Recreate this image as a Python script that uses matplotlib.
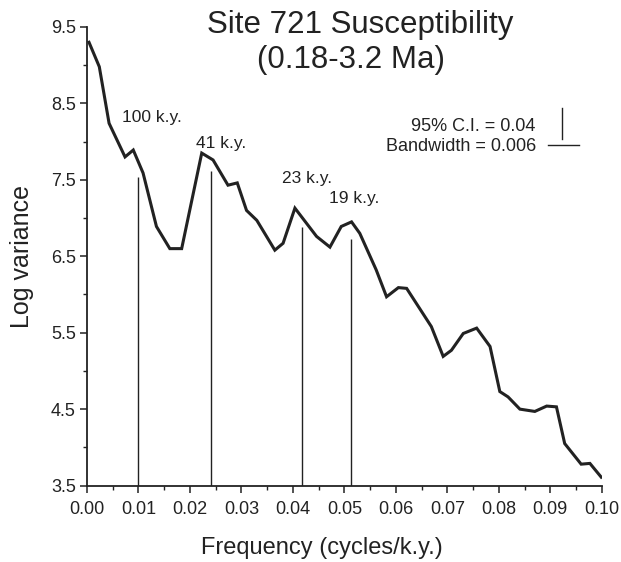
import matplotlib
matplotlib.use("Agg")
import matplotlib.pyplot as plt
from matplotlib.ticker import MultipleLocator

plt.rcParams['font.family'] = ['Liberation Sans', 'DejaVu Sans']

# spectrum vertices (frequency in cycles/k.y., log variance)
freq = [0.0004, 0.0024, 0.0043, 0.0074, 0.0090, 0.0109, 0.0135, 0.0161, 0.0184,
        0.0223, 0.0245, 0.0274, 0.0292, 0.0310, 0.0330, 0.0365, 0.0381, 0.0404,
        0.0446, 0.0472, 0.0494, 0.0514, 0.0530, 0.0562, 0.0582, 0.0605, 0.0621,
        0.0669, 0.0692, 0.0708, 0.0731, 0.0757, 0.0783, 0.0802, 0.0818, 0.0841,
        0.0870, 0.0893, 0.0912, 0.0928, 0.0960, 0.0977, 0.0999]
logvar = [9.30, 8.98, 8.24, 7.80, 7.89, 7.59, 6.89, 6.60, 6.60,
          7.85, 7.76, 7.43, 7.46, 7.10, 6.97, 6.58, 6.67, 7.13,
          6.76, 6.62, 6.89, 6.95, 6.80, 6.32, 5.97, 6.09, 6.08,
          5.58, 5.19, 5.27, 5.49, 5.56, 5.32, 4.73, 4.66, 4.50,
          4.47, 4.54, 4.53, 4.05, 3.78, 3.79, 3.61]

# orbital periods marked on the spectrum
peak_labels = ['100 k.y.', '41 k.y.', '23 k.y.', '19 k.y.']
peak_freq = [0.0100, 0.0241, 0.0418, 0.0512]
peak_top = [7.54, 7.61, 6.88, 6.73]
label_x = [0.0126, 0.0260, 0.0427, 0.0520]
label_y = [8.31, 7.98, 7.52, 7.26]

bandwidth = 0.006
ci_text = '95% C.I. = 0.04'
bw_text = 'Bandwidth = 0.006'

ink = '#222222'

fig = plt.figure(figsize=(6.21, 5.62), dpi=100)
ax = fig.add_axes([0.140, 0.136, 0.829, 0.816])

ax.plot(freq, logvar, color=ink, lw=2.2, solid_joinstyle='miter')
ax.vlines(peak_freq, 3.5, peak_top, color=ink, lw=1.0)
for lab, x, y in zip(peak_labels, label_x, label_y):
    ax.text(x, y, lab, ha='center', va='center', fontsize=12.5, color=ink)

# confidence interval and bandwidth key
ax.text(0.0872, 8.20, ci_text, ha='right', va='center', fontsize=13, color=ink)
ax.text(0.0872, 7.94, bw_text, ha='right', va='center', fontsize=13, color=ink)
ax.plot([0.0923, 0.0923], [8.04, 8.44], color=ink, lw=1.0)
ax.plot([0.0896, 0.0896 + bandwidth], [7.95, 7.95], color=ink, lw=1.0)

ax.set_xlim(0, 0.10)
ax.set_ylim(3.5, 9.5)
ax.xaxis.set_major_locator(MultipleLocator(0.01))
ax.xaxis.set_minor_locator(MultipleLocator(0.005))
ax.yaxis.set_major_locator(MultipleLocator(1.0))
ax.yaxis.set_minor_locator(MultipleLocator(0.5))
ax.set_yticks([3.5, 4.5, 5.5, 6.5, 7.5, 8.5, 9.5])
ax.set_xticklabels(['%.2f' % t for t in ax.get_xticks()])
ax.tick_params(which='major', length=5, width=1.1, labelsize=13, colors=ink, pad=3)
ax.tick_params(axis='x', which='major', pad=6)
ax.tick_params(which='minor', length=3, width=1.0, colors=ink)

for s in ['top', 'right']:
    ax.spines[s].set_visible(False)
for s in ['left', 'bottom']:
    ax.spines[s].set_linewidth(1.3)
    ax.spines[s].set_color(ink)

fig.text(321.5 / 621, 1 - 548 / 562, 'Frequency (cycles/k.y.)', ha='center',
         va='center', fontsize=17, color=ink)
fig.text(22 / 621, 1 - 256 / 562, 'Log variance', ha='center', va='center',
         rotation=90, fontsize=18, color=ink)

fig.text(0.580, 0.955, 'Site 721 Susceptibility', ha='center', va='center',
         fontsize=22.5, color=ink)
fig.text(0.566, 0.893, '(0.18-3.2 Ma)', ha='center', va='center',
         fontsize=22.5, color=ink)

fig.savefig('out.png', dpi=100)
